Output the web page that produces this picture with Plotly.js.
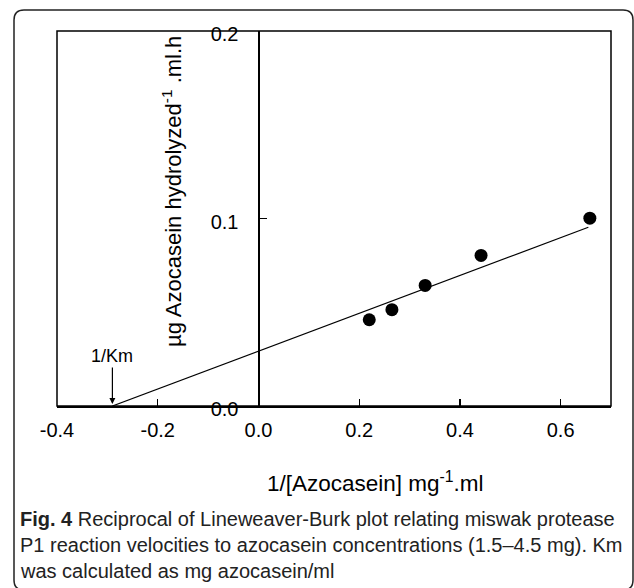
<!DOCTYPE html>
<html>
<head>
<meta charset="utf-8">
<script src="https://cdn.plot.ly/plotly-3.0.1.min.js"></script>
<style>
  html, body { margin: 0; padding: 0; background: #fff; }
  #chart { width: 634px; height: 588px; }
</style>
</head>
<body>
<div id="chart"></div>
<script>
// ---- data ----
const invSubstrate = [0.22, 0.265, 0.331, 0.442, 0.658];     // 1/[Azocasein] mg^-1.ml
const invVelocity  = [0.046, 0.0514, 0.0643, 0.0803, 0.1002]; // 1/v
const fitX = [-0.29, 0.655];
const fitY = [0, 0.0953];
const kmIntercept = -0.29;
const xTickVals = [-0.4, -0.2, 0, 0.2, 0.4, 0.6];
const xTickText = ['-0.4', '-0.2', '0.0', '0.2', '0.4', '0.6'];
const yTickVals = [0, 0.1, 0.2];
const yTickText = ['0.0', '0.1', '0.2'];
const xTitle = '1/[Azocasein] mg<sup>-1</sup>.ml';
const yTitle = 'µg Azocasein hydrolyzed<sup>-1</sup> .ml.h';
const captionLines = [
  '<b>Fig. 4</b> Reciprocal of Lineweaver-Burk plot relating miswak protease',
  'P1 reaction velocities to azocasein concentrations (1.5–4.5 mg). Km',
  'was calculated as mg azocasein/ml'
];

// ---- layout geometry ----
const W = 634, H = 588;
const M = {l: 57, r: 23, t: 31, b: 182};
const PW = W - M.l - M.r, PH = H - M.t - M.b;
const px = v => (v - M.l) / PW;          // pixel x -> paper
const py = v => (H - M.b - v) / PH;      // pixel y -> paper

// rounded figure frame
const fx0 = px(14), fx1 = px(633), fy0 = py(10), fy1 = py(590);
const rx = 10 / PW, ry = 10 / PH;
const framePath =
  `M ${fx0} ${fy0 - ry} Q ${fx0} ${fy0} ${fx0 + rx} ${fy0} ` +
  `L ${fx1 - rx} ${fy0} Q ${fx1} ${fy0} ${fx1} ${fy0 - ry} ` +
  `L ${fx1} ${fy1 + ry} Q ${fx1} ${fy1} ${fx1 - rx} ${fy1} ` +
  `L ${fx0 + rx} ${fy1} Q ${fx0} ${fy1} ${fx0} ${fy1 + ry} Z`;

const font = 'Liberation Sans, Arial, sans-serif';

const traces = [
  {
    x: fitX, y: fitY, type: 'scatter', mode: 'lines',
    line: {color: '#000', width: 1.2}, hoverinfo: 'skip', showlegend: false
  },
  {
    x: invSubstrate, y: invVelocity, type: 'scatter', mode: 'markers',
    marker: {color: '#000', size: 13}, showlegend: false
  }
];

const captionY = [519, 545, 571];

const layout = {
  width: W, height: H,
  margin: M,
  paper_bgcolor: '#fff', plot_bgcolor: '#fff',
  showlegend: false,
  font: {family: font, color: '#000'},
  xaxis: {
    range: [-0.4, 0.7],
    tickvals: xTickVals, ticktext: xTickText,
    ticks: 'inside', ticklen: 7, tickwidth: 1.2, tickcolor: '#000',
    ticklabelstandoff: 5,
    tickfont: {family: font, size: 20, color: '#000'},
    showline: true, linecolor: '#000', linewidth: 1.5,
    showgrid: false, zeroline: false
  },
  yaxis: {
    range: [0, 0.2],
    anchor: 'free', position: 0.4 / 1.1,
    tickvals: yTickVals, ticktext: yTickText,
    ticks: 'inside', ticklen: 7, tickwidth: 1.2, tickcolor: '#000',
    ticklabelstandoff: 16, ticklabelshift: 3,
    tickfont: {family: font, size: 20, color: '#000'},
    showline: true, linecolor: '#000', linewidth: 1.5,
    showgrid: false, zeroline: false
  },
  shapes: [
    {type: 'rect', xref: 'paper', yref: 'paper', x0: 0, x1: 1, y0: 0, y1: 1,
     line: {color: '#000', width: 1.5}},
    {type: 'path', xref: 'paper', yref: 'paper', path: framePath,
     line: {color: '#222', width: 1.5}}
  ],
  annotations: [
    {text: yTitle, xref: 'paper', yref: 'paper', x: px(172), y: py(192),
     textangle: -90, showarrow: false, xanchor: 'center', yanchor: 'middle',
     font: {family: font, size: 22, color: '#000'}},
    {text: xTitle, xref: 'paper', yref: 'paper', x: px(375), y: py(482),
     showarrow: false, xanchor: 'center', yanchor: 'middle',
     font: {family: font, size: 22.5, color: '#000'}},
    {text: '1/Km', x: kmIntercept, y: 0, xref: 'x', yref: 'y',
     showarrow: true, arrowhead: 2, arrowsize: 1, arrowwidth: 1.2,
     arrowcolor: '#000', ax: 0, ay: -50, standoff: 2,
     font: {family: font, size: 18, color: '#000'}}
  ].concat(captionLines.map((t, i) => ({
    text: t, xref: 'paper', yref: 'paper', x: px(18), y: py(captionY[i]),
    xanchor: 'left', yanchor: 'middle', showarrow: false, align: 'left',
    font: {family: font, size: 20, color: '#222'}
  })))
};

Plotly.newPlot('chart', traces, layout, {displayModeBar: false, staticPlot: true});
</script>
</body>
</html>
